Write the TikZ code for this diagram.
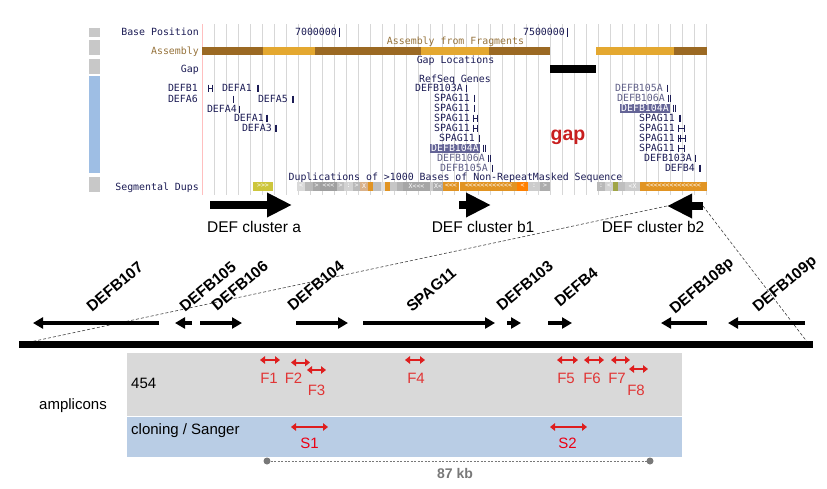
\documentclass[tikz,border=0pt]{standalone}
\usepackage{fontspec}
\setmainfont{Liberation Sans}
\setmonofont{DejaVu Sans Mono}
\usepackage{xcolor}
\usetikzlibrary{arrows.meta, positioning, calc}
\definecolor{btngray}{RGB}{200, 200, 200}
\definecolor{btnblue}{RGB}{158, 190, 228}
\definecolor{gridgray}{RGB}{215, 215, 215}
\definecolor{asmdark}{RGB}{155, 105, 35}
\definecolor{asmlight}{RGB}{228, 168, 48}
\definecolor{asmtext}{RGB}{150, 115, 60}
\definecolor{genenavy}{RGB}{28, 28, 85}
\definecolor{genegray}{RGB}{95, 95, 135}
\definecolor{hlbox}{RGB}{100, 100, 150}
\definecolor{sdorange}{RGB}{225, 148, 35}
\definecolor{sdyellow}{RGB}{205, 198, 60}
\definecolor{sdolive}{RGB}{160, 165, 70}
\definecolor{gapred}{RGB}{200, 30, 30}
\definecolor{ampgray}{RGB}{217, 217, 217}
\definecolor{ampblue}{RGB}{185, 205, 229}
\definecolor{ampred}{RGB}{222, 30, 30}
\definecolor{kbgray}{RGB}{120, 120, 120}
\tikzset{
  browsertext/.style={font=\ttfamily\fontsize{9.9}{10}\selectfont, inner sep=0pt,
    text height=7pt, text depth=0pt},
  tracklabel/.style={browsertext, text=genenavy, anchor=east},
  genelabel/.style={browsertext, text=genenavy, anchor=east},
  greylabel/.style={browsertext, text=genegray, anchor=east},
  hllabel/.style={browsertext, text=white, fill=hlbox, anchor=east, inner xsep=1pt, inner ysep=1pt},
  clusterarrow/.style={line width=8pt, -{Triangle[length=25pt, width=23pt]}},
  clusterlabel/.style={font=\fontsize{15.5}{15.5}\selectfont, inner sep=0pt},
  genearrow/.style={line width=3.2pt, -{Triangle[length=10pt, width=11pt]}},
  genename/.style={font=\bfseries\fontsize{15.5}{15.5}\selectfont, rotate=40,
    anchor=south west, inner sep=0pt, text depth=0pt},
  zoomline/.style={line width=0.6pt, black!75, dash pattern=on 3pt off 2pt},
  amparrow/.style={ampred, line width=2pt,
    {Triangle[length=5pt, width=7.5pt]}-{Triangle[length=5pt, width=7.5pt]}},
  amplabel/.style={text=ampred!90!white, font=\fontsize{15}{15}\selectfont, inner sep=0pt},
  boxlabel/.style={font=\fontsize{15}{15}\selectfont, inner sep=0pt, anchor=west},
}
\newcommand{\sdseg}[4]{%
  \fill[#3] (#1,181.5) rectangle (#2,190.5);
  \node[font=\ttfamily\fontsize{6.5}{7}\selectfont, text=white, inner sep=0pt] (sd#1) at ({(#1+#2)/2},186) {#4};
}
\newcommand{\gtick}[3]{%
  \draw[genenavy, line width=#3] (#1,#2-3.5) -- (#1,#2+3.5);
}
\newcommand{\gspan}[3]{%
  \draw[genenavy, line width=0.8pt] (#1,#3-3.5) -- (#1,#3+3.5) (#2,#3-3.5) -- (#2,#3+3.5) (#1,#3) -- (#2,#3);
}

\begin{document}
\begin{tikzpicture}[x=1pt, y=-1pt]
    \useasboundingbox (0,0) rectangle (827,488);
    % Browser grid
    \foreach \gx in {0,...,42} {
      \draw[gridgray, line width=0.6pt] (202+12*\gx,24) -- (202+12*\gx,195);
    }
    \draw[red!25, line width=0.6pt] (202,24) -- (202,195);
    % Side buttons
    \fill[btngray] (89,28) rectangle (100,37);
    \fill[btngray] (89,39.5) rectangle (100,55);
    \fill[btngray] (89,58.5) rectangle (100,73.5);
    \fill[btnblue] (89,76) rectangle (100,173);
    \fill[btngray] (89,177) rectangle (100,192);
    % Track labels
    \node[tracklabel] (lbase) at (199,32) {Base Position};
    \node[tracklabel, text=asmtext] (lasm) at (199,50.5) {Assembly};
    \node[tracklabel] (lgap) at (199,69) {Gap};
    \node[tracklabel] (lsd) at (199,186.5) {Segmental Dups};
    % Base position
    \node[genelabel] (p7000) at (337,32) {7000000};
    \draw[genenavy, line width=0.8pt] (339,27.5) -- (339,36.5);
    \node[genelabel] (p7500) at (565,32) {7500000};
    \draw[genenavy, line width=0.8pt] (567,27.5) -- (567,36.5);
    % Assembly
    \node[browsertext, text=asmtext] (asmfrag) at (455.5,41) {Assembly from Fragments};
    \fill[asmdark] (202,46.5) rectangle (263,55);
    \fill[asmlight] (263,46.5) rectangle (315,55);
    \fill[asmdark] (315,46.5) rectangle (421,55);
    \fill[asmlight] (421,46.5) rectangle (489,55);
    \fill[asmdark] (489,46.5) rectangle (550,55);
    \fill[asmlight] (596,46.5) rectangle (674,55);
    \fill[asmdark] (674,46.5) rectangle (707,55);
    % Gap
    \node[browsertext, text=genenavy] (gaploc) at (455.5,60) {Gap Locations};
    \fill[black] (550,65) rectangle (596,73);
    \node[font=\bfseries\fontsize{19.5}{19.5}\selectfont, text=gapred, inner sep=0pt] (gaptxt) at (568,137) {gap};
    % RefSeq genes, DEFA side
    \node[genelabel] (gdefb1) at (198,88) {DEFB1};
    \gspan{208}{212}{88}
    \node[genelabel] (gdefa6) at (198,99) {DEFA6};
    \gtick{233}{99}{0.8pt}
    \node[genelabel] (gdefa1a) at (252,88) {DEFA1};
    \gtick{258}{88}{1.4pt}
    \node[genelabel] (gdefa5) at (288,99) {DEFA5};
    \gtick{293}{99}{1.4pt}
    \node[genelabel] (gdefa4) at (237,109) {DEFA4};
    \gtick{239.5}{109}{1.2pt}
    \node[genelabel] (gdefa1b) at (264,118) {DEFA1};
    \gtick{267}{118}{1.4pt}
    \node[genelabel] (gdefa3) at (272,128) {DEFA3};
    \gtick{275.5}{128}{2pt}
    % RefSeq genes, cluster b1
    \node[browsertext, text=genenavy] (refseq) at (455,79) {RefSeq Genes};
    \node[genelabel] (gb103a) at (463,88) {DEFB103A};
    \gtick{466}{88}{0.8pt}
    \node[genelabel] (gspa) at (470,98) {SPAG11};
    \gtick{474}{98}{0.8pt}
    \node[genelabel] (gspb) at (470,108) {SPAG11};
    \gtick{474}{108}{0.8pt}
    \node[genelabel] (gspc) at (470,118) {SPAG11};
    \gspan{473}{477}{118}
    \node[genelabel] (gspd) at (470,128) {SPAG11};
    \gspan{473}{477}{128}
    \node[genelabel] (gspe) at (475,138) {SPAG11};
    \gtick{479}{138}{0.8pt}
    \node[hllabel] (gb104a) at (480,148) {DEFB104A};
    \gtick{483}{148}{0.7pt}
    \gtick{485}{148}{0.7pt}
    \node[greylabel] (gb106a) at (485,158) {DEFB106A};
    \gtick{488}{158}{0.7pt}
    \gtick{490}{158}{0.7pt}
    \node[greylabel] (gb105a) at (488,168) {DEFB105A};
    \gtick{492}{168}{0.7pt}
    % RefSeq genes, cluster b2
    \node[greylabel] (hb105a) at (663,88) {DEFB105A};
    \gtick{667}{88}{0.7pt}
    \node[greylabel] (hb106a) at (665,98) {DEFB106A};
    \gtick{668.5}{98}{0.7pt}
    \gtick{670.5}{98}{0.7pt}
    \node[hllabel] (hb104a) at (670,108) {DEFB104A};
    \gtick{673}{108}{0.7pt}
    \gtick{675}{108}{0.7pt}
    \node[genelabel] (hspa) at (675,118) {SPAG11};
    \gtick{680}{118}{1.4pt}
    \node[genelabel] (hspb) at (675,128) {SPAG11};
    \gspan{678}{684}{128}
    \node[genelabel] (hspc) at (675,138) {SPAG11};
    \gspan{678}{685}{138}
    \gtick{680}{138}{0.8pt}
    \node[genelabel] (hspd) at (675,148) {SPAG11};
    \gspan{678}{684}{148}
    \node[genelabel] (hb103a) at (692,158) {DEFB103A};
    \gtick{695}{158}{0.8pt}
    \node[genelabel] (hb4) at (695,168) {DEFB4};
    \gtick{700}{168}{2pt}
    % Segmental duplications
    \node[browsertext, text=genenavy] (sdtitle) at (455.5,177) {Duplications of >1000 Bases of Non-RepeatMasked Sequence};
    \sdseg{253}{273}{sdyellow}{>>>}
    \sdseg{297}{305}{gray!30}{<}
    \sdseg{305}{313}{gray!55}{}
    \sdseg{313}{320}{gray!70}{>}
    \sdseg{320}{337}{gray!75}{<<<}
    \sdseg{337}{344}{gray!50}{>}
    \sdseg{344}{353}{gray!35}{:}
    \sdseg{353}{360}{gray!55}{>}
    \sdseg{360}{368}{brown!60}{X}
    \sdseg{368}{373}{sdorange}{}
    \sdseg{373}{381}{gray!50}{}
    \sdseg{381}{385}{gray!25}{}
    \sdseg{385}{390}{sdorange}{}
    \sdseg{390}{397}{gray!45}{}
    \sdseg{397}{403}{gray!60}{}
    \sdseg{403}{430}{gray!70}{X<<<}
    \sdseg{430}{433}{gray!40}{}
    \sdseg{433}{443}{gray!65}{X<}
    \sdseg{443}{459}{sdorange}{<<<}
    \sdseg{460}{517}{sdorange}{<<<<<<<<<<<<}
    \sdseg{517}{528}{orange}{<}
    \sdseg{528}{540}{gray!40}{:}
    \sdseg{540}{550}{gray!65}{>}
    \sdseg{597}{605}{gray!55}{:}
    \sdseg{605}{613}{gray!35}{<}
    \sdseg{613}{618}{sdolive}{}
    \sdseg{618}{625}{gray!50}{}
    \sdseg{625}{640}{gray!40}{<X}
    \sdseg{640}{707}{sdorange}{<<<<<<<<<<<<<<}
    % DEF clusters
    \coordinate (a0) at (210,205);
    \coordinate (a1) at (292,205);
    \coordinate (b10) at (459,205);
    \coordinate (b11) at (491,205);
    \coordinate (b20) at (703,206);
    \coordinate (b21) at (667,206);
    \draw[clusterarrow] (a0) -- (a1);
    \draw[clusterarrow] (b10) -- (b11);
    \draw[clusterarrow] (b20) -- (b21);
    \node[clusterlabel] (cla) at (254,227) {DEF cluster a};
    \node[clusterlabel] (clb1) at (483,227) {DEF cluster b1};
    \node[clusterlabel] (clb2) at (653,227) {DEF cluster b2};
    % Zoom lines to the chromosome
    \coordinate (barL) at (30,342);
    \coordinate (barR) at (808,343);
    \draw[zoomline] (b21) -- (barL);
    \draw[zoomline] (b20) -- (barR);
    \draw[line width=7pt] (19,344) -- (813,344);
    % Genes of cluster b2
    \draw[genearrow] (159,323) -- (33,323);
    \draw[genearrow] (192,323) -- (175,323);
    \draw[genearrow] (200,323) -- (242,323);
    \draw[genearrow] (296,323) -- (348,323);
    \draw[genearrow] (363,323) -- (495,323);
    \draw[genearrow] (507,323) -- (521,323);
    \draw[genearrow] (548,323) -- (572,323);
    \draw[genearrow] (707,323) -- (661,323);
    \draw[genearrow] (805,323) -- (728,323);
    \node[genename] (n107) at (92,313) {DEFB107};
    \node[genename] (n105) at (185,313) {DEFB105};
    \node[genename] (n106) at (217,312) {DEFB106};
    \node[genename] (n104) at (293,312) {DEFB104};
    \node[genename] (nspag) at (412,313) {SPAG11};
    \node[genename] (n103) at (502,312) {DEFB103};
    \node[genename] (nb4) at (560,308) {DEFB4};
    \node[genename] (n108) at (675,315) {DEFB108p};
    \node[genename] (n109) at (758,313) {DEFB109p};
    % Amplicons
    \fill[ampgray] (127,352.5) rectangle (682,415.5);
    \fill[ampblue] (127,417) rectangle (682,457);
    \node[boxlabel] (l454) at (131,383) {454};
    \node[boxlabel] (lsanger) at (131,431) {cloning / Sanger};
    \node[font=\fontsize{15}{15}\selectfont, inner sep=0pt] (lamp) at (73,406) {amplicons};
    \draw[amparrow] (260,360) -- (280,360);
    \draw[amparrow] (291,362.5) -- (310,362.5);
    \draw[amparrow] (307,370) -- (326,370);
    \draw[amparrow] (405,360) -- (425,360);
    \draw[amparrow] (557,360) -- (578,360);
    \draw[amparrow] (584,360) -- (604,360);
    \draw[amparrow] (611,360) -- (630,360);
    \draw[amparrow] (629,369) -- (648,369);
    \draw[amparrow] (291,427) -- (328,427);
    \draw[amparrow] (550,427) -- (587,427);
    \node[amplabel] (f1) at (269,378) {F1};
    \node[amplabel] (f2) at (293.5,378) {F2};
    \node[amplabel] (f3) at (316.5,390) {F3};
    \node[amplabel] (f4) at (416,378) {F4};
    \node[amplabel] (f5) at (566,378) {F5};
    \node[amplabel] (f6) at (592,378) {F6};
    \node[amplabel] (f7) at (617,378) {F7};
    \node[amplabel] (f8) at (636,390) {F8};
    \node[amplabel, text=red!70!purple] (s1) at (309.5,443) {S1};
    \node[amplabel, text=red!70!purple] (s2) at (567.5,443) {S2};
    % Distance
    \coordinate (dotL) at (267,461);
    \coordinate (dotR) at (650,461);
    \draw[kbgray, line width=0.6pt, dash pattern=on 2pt off 1.5pt] (dotL) -- (dotR);
    \fill[kbgray] (dotL) circle (3.5);
    \fill[kbgray] (dotR) circle (3.5);
    \node[font=\bfseries\fontsize{14}{14}\selectfont, text=kbgray, inner sep=0pt] (kb) at (455,473) {87 kb};
\end{tikzpicture}
\end{document}
